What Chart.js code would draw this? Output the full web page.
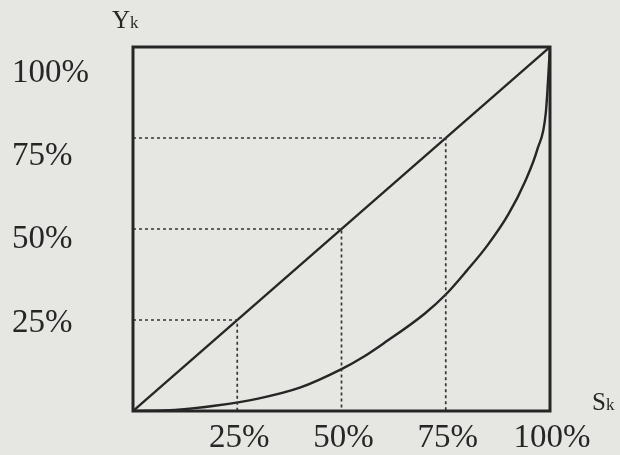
<!DOCTYPE html>
<html>
<head>
<meta charset="utf-8">
<script src="https://cdn.jsdelivr.net/npm/chart.js@4.4.1/dist/chart.umd.min.js"></script>
<style>
  html, body { margin: 0; padding: 0; background: #e6e6e3; }
  canvas { display: block; }
</style>
</head>
<body>
<canvas id="c" width="620" height="455"></canvas>
<script>
// ---- data ----
const xTicks = [25, 50, 75, 100];
const yTicks = [25, 50, 75, 100];
const guideLevels = [25, 50, 75];
const equalityX = [0, 100];
const equalityY = [0, 100];
const lorenzX = [0, 10, 20, 30, 40, 50, 55, 60, 70, 75, 80, 85, 90, 94, 97, 99, 100];
const lorenzY = [0, 0.3, 1.5, 3.4, 6.4, 11.5, 14.7, 18.5, 26.8, 32, 38.5, 45.5, 54, 63, 72, 82, 100];
const xName = 'S', yName = 'Y', subName = 'k';

const INK = '#262626';
const FONT = '"Liberation Serif", "DejaVu Serif", serif';

const toPts = (xs, ys) => xs.map((x, i) => ({ x: x, y: ys[i] }));

const guideSets = guideLevels.map(v => ({
  data: [{ x: 0, y: v }, { x: v, y: v }, { x: v, y: 0 }],
  borderColor: '#363636', borderWidth: 1.7, borderDash: [3, 3],
  pointRadius: 0, showLine: true, fill: false, tension: 0
}));

const frameAndNames = {
  id: 'frameAndNames',
  afterDatasetsDraw(chart) {
    const a = chart.chartArea, ctx = chart.ctx;
    ctx.save();
    ctx.strokeStyle = INK;
    ctx.lineWidth = 3;
    ctx.strokeRect(a.left, a.top, a.right - a.left, a.bottom - a.top);
    ctx.restore();
  },
  afterDraw(chart) {
    const a = chart.chartArea, ctx = chart.ctx;
    ctx.save();
    ctx.fillStyle = INK;
    ctx.textBaseline = 'alphabetic';
    ctx.textAlign = 'left';
    // Y_k
    ctx.font = '25px ' + FONT;
    ctx.fillText(yName, a.left - 21, a.top - 19);
    let w = ctx.measureText(yName).width;
    ctx.font = '17px ' + FONT;
    ctx.fillText(subName, a.left - 21 + w, a.top - 19);
    // S_k
    ctx.font = '25px ' + FONT;
    ctx.fillText(xName, a.right + 42, a.bottom - 1);
    w = ctx.measureText(xName).width;
    ctx.font = '17px ' + FONT;
    ctx.fillText(subName, a.right + 42 + w, a.bottom - 1);
    ctx.restore();
  }
};

new Chart(document.getElementById('c'), {
  type: 'scatter',
  data: {
    datasets: [
      ...guideSets,
      {
        data: toPts(equalityX, equalityY),
        borderColor: INK, borderWidth: 2.4, pointRadius: 0, showLine: true, fill: false
      },
      {
        data: toPts(lorenzX, lorenzY),
        borderColor: INK, borderWidth: 2.4, pointRadius: 0, showLine: true, fill: false,
        cubicInterpolationMode: 'monotone'
      }
    ]
  },
  options: {
    responsive: false,
    animation: false,
    devicePixelRatio: 1,
    layout: { padding: { left: 12, top: 47, right: 70, bottom: 0 } },
    plugins: { legend: { display: false }, tooltip: { enabled: false } },
    scales: {
      x: {
        type: 'linear', position: 'bottom', min: 0, max: 100,
        grid: { display: false, drawTicks: false },
        border: { display: false },
        afterBuildTicks: s => { s.ticks = xTicks.map(v => ({ value: v })); },
        afterFit: s => { s.height = 44; },
        ticks: {
          callback: v => v + '%',
          font: { family: FONT, size: 33 }, color: INK,
          padding: 8, labelOffset: 2, maxRotation: 0, autoSkip: false
        }
      },
      y: { type: 'linear', display: false, min: 0, max: 100 },
      yl: {
        type: 'linear', position: 'left', min: -1.4, max: 107.8,
        grid: { display: false, drawTicks: false },
        border: { display: false },
        afterBuildTicks: s => { s.ticks = yTicks.map(v => ({ value: v })); },
        afterFit: s => { s.width = 121; },
        ticks: {
          callback: v => v + '%',
          font: { family: FONT, size: 33 }, color: INK,
          crossAlign: 'far', autoSkip: false
        }
      }
    }
  },
  plugins: [frameAndNames]
});
</script>
</body>
</html>
